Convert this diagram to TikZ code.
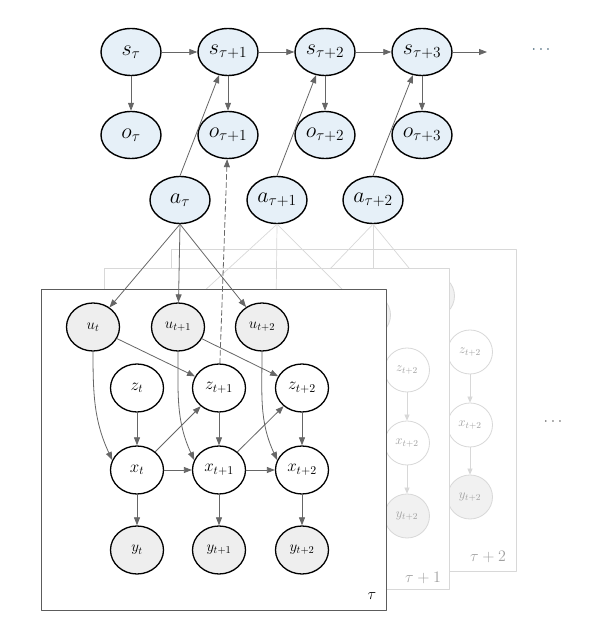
\documentclass[tikz,border=0pt]{standalone}
\usepackage{fix-cm}
\usetikzlibrary{shapes.geometric,arrows.meta}

\definecolor{bluefill}{HTML}{E6F0F8}
\definecolor{grayfill}{HTML}{EEEEEE}
\definecolor{edgegray}{HTML}{666666}
\definecolor{fadeline}{HTML}{D8D8D8}
\definecolor{fadetext}{HTML}{A0A0A0}
\definecolor{dotsblue}{HTML}{3F5F73}

\begin{document}
\begin{tikzpicture}[x=1pt, y=1pt, line cap=round, line join=round,
  topnode/.style={ellipse, draw=black, line width=1.4pt, fill=bluefill,
    minimum width=60pt, minimum height=47pt, inner sep=0pt,
    font=\fontsize{22}{26}\selectfont},
  innode/.style={ellipse, draw=black, line width=1.3pt, fill=white,
    minimum width=53pt, minimum height=48pt, inner sep=0pt,
    font=\fontsize{17}{20}\selectfont},
  obsnode/.style={innode, fill=grayfill, font=\fontsize{15}{18}\selectfont},
  fadenode/.style={ellipse, draw=fadeline, line width=0.8pt, fill=white,
    minimum width=45pt, minimum height=44pt, inner sep=0pt, text=fadetext,
    font=\fontsize{13}{15}\selectfont},
  fadeobs/.style={fadenode, fill=grayfill!80},
  arr/.style={draw=edgegray, line width=0.8pt, -{Triangle[length=8pt,width=6pt]}},
  fadearr/.style={draw=fadeline, line width=0.7pt, -{Triangle[length=6pt,width=5pt]}},
  platebox/.style={fill=white, draw=fadeline, line width=0.8pt},
  platelabel/.style={font=\fontsize{16}{19}\selectfont}
]
      \useasboundingbox (0,0) rectangle (595,640);

      % --- RANDUL DE SUS: STARI, OBSERVATII, ACTIUNI ---
      \foreach \n/\x/\lab in {sT/131/\tau, sT1/228/{\tau+1}, sT2/325/{\tau+2}, sT3/422/{\tau+3}} {
        \node[topnode] (\n) at (\x,588) {$s_{\lab}$};
      }
      \foreach \n/\x/\lab in {oT/131/\tau, oT1/228/{\tau+1}, oT2/325/{\tau+2}, oT3/422/{\tau+3}} {
        \node[topnode] (\n) at (\x,505) {$o_{\lab}$};
      }
      \foreach \n/\x/\lab in {aT/180/\tau, aT1/277/{\tau+1}, aT2/373/{\tau+2}} {
        \node[topnode] (\n) at (\x,440) {$a_{\lab}$};
      }
      \coordinate (sEnd) at (487,588);
      \node[text=dotsblue, font=\fontsize{16}{18}\selectfont] (dotsTop) at (541,590) {$\cdots$};

      \draw[arr] (sT) -- (sT1);
      \draw[arr] (sT1) -- (sT2);
      \draw[arr] (sT2) -- (sT3);
      \draw[arr] (sT3) -- (sEnd);
      \foreach \i in {,1,2,3} {
        \draw[arr] (sT\i) -- (oT\i);
      }
      \draw[arr] (aT.north) -- (sT1);
      \draw[arr] (aT1.north) -- (sT2);
      \draw[arr] (aT2.north) -- (sT3);

      % --- CADRUL tau+2 (in spate) ---
      \draw[platebox] (171,69) rectangle (516,391);
      \node[platelabel, text=fadetext] (labB2) at (488,83) {$\tau+2$};
      \node[fadeobs] (bBu0) at (304,344) {};
      \node[fadeobs] (bBu1) at (373,344) {};
      \node[fadeobs] (bBu2) at (432,344) {};
      \node[fadenode] (bBz) at (470,288) {$z_{t+2}$};
      \node[fadenode] (bBx) at (470,215) {$x_{t+2}$};
      \node[fadeobs]  (bBy) at (470,143) {$y_{t+2}$};
      \draw[fadearr] (bBu1) -- (bBz);
      \draw[fadearr] (bBz) -- (bBx);
      \draw[fadearr] (bBx) -- (bBy);
      \foreach \i in {0,1,2} {
        \draw[fadeline, line width=0.7pt] (aT2.south) -- (bBu\i);
      }

      % --- CADRUL tau+1 ---
      \draw[platebox] (104,51) rectangle (449,372);
      \node[platelabel, text=fadetext] (labB1) at (423,62) {$\tau+1$};
      \node[fadeobs] (bAu0) at (178,325) {};
      \node[fadeobs] (bAu1) at (276,325) {};
      \node[fadeobs] (bAu2) at (368,325) {};
      \node[fadenode] (bAz) at (407,270) {$z_{t+2}$};
      \node[fadenode] (bAx) at (407,197) {$x_{t+2}$};
      \node[fadeobs]  (bAy) at (407,124) {$y_{t+2}$};
      \draw[fadearr] (bAu1) -- (bAz);
      \draw[fadearr] (bAz) -- (bAx);
      \draw[fadearr] (bAx) -- (bAy);
      \foreach \i in {0,1,2} {
        \draw[fadeline, line width=0.7pt] (aT1.south) -- (bAu\i);
      }

      % --- CADRUL tau (in fata) ---
      \draw[fill=white, draw=edgegray!90!black, line width=0.9pt] (41,30) rectangle (386,351);
      \node[platelabel] (labT) at (372,44) {$\tau$};

      \foreach \n/\x/\lab in {ut/93/t, ut1/178/{t+1}, ut2/262/{t+2}} {
        \node[obsnode] (\n) at (\x,313) {$u_{\lab}$};
      }
      \foreach \n/\x/\lab in {t/137/t, t1/219/{t+1}, t2/302/{t+2}} {
        \node[innode] (z\n) at (\x,252) {$z_{\lab}$};
        \node[innode] (x\n) at (\x,170) {$x_{\lab}$};
        \node[obsnode] (y\n) at (\x,90) {$y_{\lab}$};
        \draw[arr] (z\n) -- (x\n);
        \draw[arr] (x\n) -- (y\n);
      }

      % --- LEGATURI IN CADRUL tau ---
      \foreach \i in {t,t1,t2} {
        \draw[arr] (aT.south) -- (u\i);
        \draw[arr] (u\i) to[out=-90, in=115] (x\i.158);
      }
      \draw[arr] (ut) -- (zt1);
      \draw[arr] (ut1) -- (zt2);
      \draw[arr] (xt) -- (zt1);
      \draw[arr] (xt1) -- (zt2);
      \draw[arr] (xt) -- (xt1);
      \draw[arr] (xt1) -- (xt2);

      % --- LEGATURA PUNCTATA SPRE o ---
      \draw[arr, dash pattern=on 5pt off 3pt] (zt1) -- (oT1);

      \node[text=edgegray, font=\fontsize{16}{18}\selectfont] (dotsRight) at (553,218) {$\cdots$};

    \end{tikzpicture}
\end{document}
